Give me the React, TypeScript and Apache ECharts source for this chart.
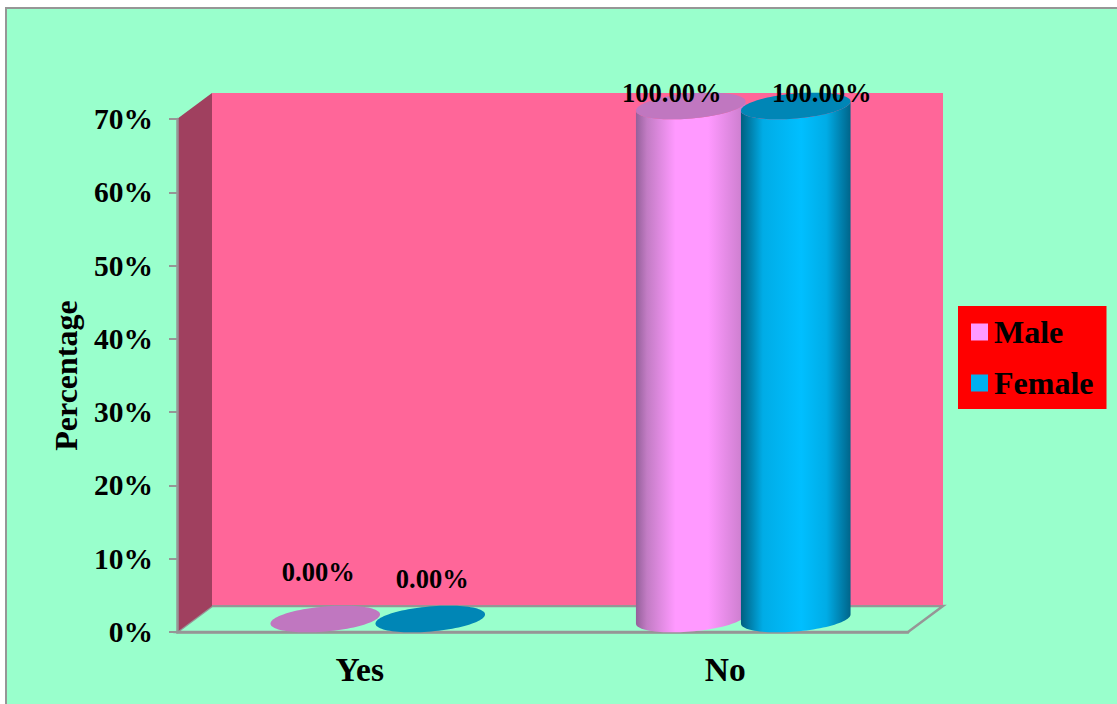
import React, { useEffect, useRef } from "react";
import * as echarts from "echarts";

const categories = ["Yes", "No"];
const maleValues = [0, 100];
const femaleValues = [0, 100];
const seriesNames = ["Male", "Female"];
const axisMax = 70;
const axisStep = 10;

const FONT = "Liberation Serif";
const PAGE_BG = "#99FFCC";
const BACK_WALL = "#FF6699";
const SIDE_WALL = "#A0405F";
const RULE = "#969696";

// Oblique projection of the chart box
const DEPTH_X = 35;
const DEPTH_Y = 26;

// Cylinder geometry
const RADIUS_X = 55;
const RADIUS_Y = 12.5;
const TILT = (5 * Math.PI) / 180;
const PAIR_OFFSET = 18;
const PAIR_SPREAD = 52.5;

const caps = ["#C077C0", "#0086B6"];
const swatches = ["#FF99FF", "#00B0F0"];
const bodyStops = [
  [
    { offset: 0, color: "#94609A" },
    { offset: 0.1, color: "#C27CC4" },
    { offset: 0.36, color: "#FF99FF" },
    { offset: 0.66, color: "#FF99FF" },
    { offset: 1, color: "#C87CCA" },
  ],
  [
    { offset: 0, color: "#005F80" },
    { offset: 0.2, color: "#00ACE6" },
    { offset: 0.55, color: "#00BFFF" },
    { offset: 0.78, color: "#00ACE6" },
    { offset: 1, color: "#00658A" },
  ],
];

// Label nudges from the centre of each cylinder's upper face: [series][category]
const labelNudges = [
  [[-7, -47], [-19, -13]],
  [[2, -40], [26, -13]],
];

function ellipsePoint(cx: number, cy: number, t: number) {
  const c = Math.cos(t);
  const s = Math.sin(t);
  return [
    cx + RADIUS_X * c * Math.cos(TILT) + RADIUS_Y * s * Math.sin(TILT),
    cy - RADIUS_X * c * Math.sin(TILT) + RADIUS_Y * s * Math.cos(TILT),
  ];
}

function arc(cx: number, cy: number, from: number, to: number, steps: number) {
  const pts: number[][] = [];
  for (let i = 0; i <= steps; i++) {
    pts.push(ellipsePoint(cx, cy, from + ((to - from) * i) / steps));
  }
  return pts;
}

function cylinderRenderer(seriesIndex: number) {
  const side = seriesIndex === 0 ? -1 : 1;
  return (_params: any, api: any) => {
    const categoryIndex = api.value(0);
    const value = api.value(1);
    const base = api.coord([categoryIndex, 0]);
    const top = api.coord([categoryIndex, Math.min(value, axisMax)]);
    const cx = base[0] + PAIR_OFFSET + side * PAIR_SPREAD;
    const baseY = base[1] - DEPTH_Y / 2;
    const topY = top[1] - DEPTH_Y / 2;
    const children: any[] = [];
    if (value > 0) {
      const lift = Math.atan((RADIUS_Y / RADIUS_X) * Math.tan(TILT));
      children.push({
        type: "polygon",
        shape: {
          points: [
            ...arc(cx, baseY, Math.PI + lift, lift, 48),
            ...arc(cx, topY, lift, Math.PI + lift, 48),
          ],
        },
        style: {
          fill: new echarts.graphic.LinearGradient(0, 0, 1, 0, bodyStops[seriesIndex]),
        },
      });
    }
    children.push({
      type: "polygon",
      shape: { points: arc(cx, topY, 0, Math.PI * 2, 96) },
      style: { fill: caps[seriesIndex] },
    });
    const nudge = labelNudges[seriesIndex][categoryIndex];
    children.push({
      type: "text",
      x: cx + nudge[0],
      y: topY + nudge[1],
      z2: 10,
      style: {
        text: `${value.toFixed(2)}%`,
        fill: "#000",
        font: `bold 26.5px "${FONT}"`,
        textAlign: "center",
        textVerticalAlign: "middle",
      },
    });
    return { type: "group", children };
  };
}

// Back wall, side wall and floor of the box
function renderBox(params: any) {
  const { x, y, width, height } = params.coordSys;
  const right = x + width;
  const bottom = y + height;
  return {
    type: "group",
    children: [
      {
        type: "polygon",
        shape: {
          points: [
            [x, bottom],
            [x + DEPTH_X, bottom - DEPTH_Y],
            [right + DEPTH_X, bottom - DEPTH_Y],
            [right, bottom],
          ],
        },
        style: { fill: PAGE_BG, stroke: RULE, lineWidth: 2.5 },
      },
      {
        type: "rect",
        shape: { x: x + DEPTH_X, y: y - DEPTH_Y, width, height: height - 1 },
        style: { fill: BACK_WALL },
      },
      {
        type: "polygon",
        shape: {
          points: [
            [x, y],
            [x + DEPTH_X, y - DEPTH_Y],
            [x + DEPTH_X, bottom - DEPTH_Y],
            [x, bottom],
          ],
        },
        style: { fill: SIDE_WALL },
      },
    ],
  };
}

export default function App() {
  const ref = useRef<HTMLDivElement>(null);

  useEffect(() => {
    document.body.style.margin = "0";
    const chart = echarts.init(ref.current!, undefined, { renderer: "svg" });
    const toRows = (values: number[]) => values.map((v, i) => [i, v]);
    chart.setOption({
      animation: false,
      backgroundColor: "#FFFFFF",
      graphic: [
        {
          type: "rect",
          z: -10,
          silent: true,
          shape: { x: 6, y: 8, width: 1120, height: 710 },
          style: { fill: PAGE_BG, stroke: RULE, lineWidth: 2 },
        },
      ],
      grid: { left: 177, right: 209, top: 119, bottom: 72 },
      legend: {
        left: 958,
        top: 306,
        orient: "vertical",
        backgroundColor: "#FF0000",
        padding: [10, 13, 10, 13],
        itemWidth: 17,
        itemHeight: 17,
        itemGap: 19,
        borderRadius: 0,
        selectedMode: false,
        textStyle: {
          fontFamily: FONT,
          fontWeight: "bold",
          fontSize: 32,
          color: "#000",
          padding: [0, 0, 2, 1],
        },
        data: seriesNames.map((name, i) => ({
          name,
          icon: "rect",
          itemStyle: { color: swatches[i] },
        })),
      },
      xAxis: {
        type: "category",
        data: categories,
        z: 2,
        axisLine: { lineStyle: { color: RULE, width: 2.5 } },
        axisTick: { show: false },
        axisLabel: {
          margin: 20,
          fontFamily: FONT,
          fontWeight: "bold",
          fontSize: 33.5,
          color: "#000",
        },
      },
      yAxis: {
        type: "value",
        min: 0,
        max: axisMax,
        interval: axisStep,
        z: 2,
        name: "Percentage",
        nameLocation: "middle",
        nameGap: 95,
        nameTextStyle: {
          fontFamily: FONT,
          fontWeight: "bold",
          fontSize: 32,
          color: "#000",
        },
        splitLine: { show: false },
        axisLine: { show: true, lineStyle: { color: RULE, width: 2.5 } },
        axisTick: { show: true, length: 8, lineStyle: { color: RULE, width: 2 } },
        axisLabel: {
          margin: 24,
          fontFamily: FONT,
          fontWeight: "bold",
          fontSize: 29.5,
          color: "#000",
          formatter: (v: number) => `${v}%`,
        },
      },
      series: [
        {
          type: "custom",
          name: "box",
          z: 1,
          silent: true,
          clip: false,
          renderItem: renderBox,
          data: [[0, 0]],
        },
        {
          type: "custom",
          name: seriesNames[0],
          z: 3,
          clip: false,
          itemStyle: { color: swatches[0] },
          renderItem: cylinderRenderer(0),
          encode: { x: 0, y: 1 },
          data: toRows(maleValues),
        },
        {
          type: "custom",
          name: seriesNames[1],
          z: 4,
          clip: false,
          itemStyle: { color: swatches[1] },
          renderItem: cylinderRenderer(1),
          encode: { x: 0, y: 1 },
          data: toRows(femaleValues),
        },
      ],
    });
    return () => chart.dispose();
  }, []);

  return <div ref={ref} style={{ width: 1117, height: 704 }} />;
}
